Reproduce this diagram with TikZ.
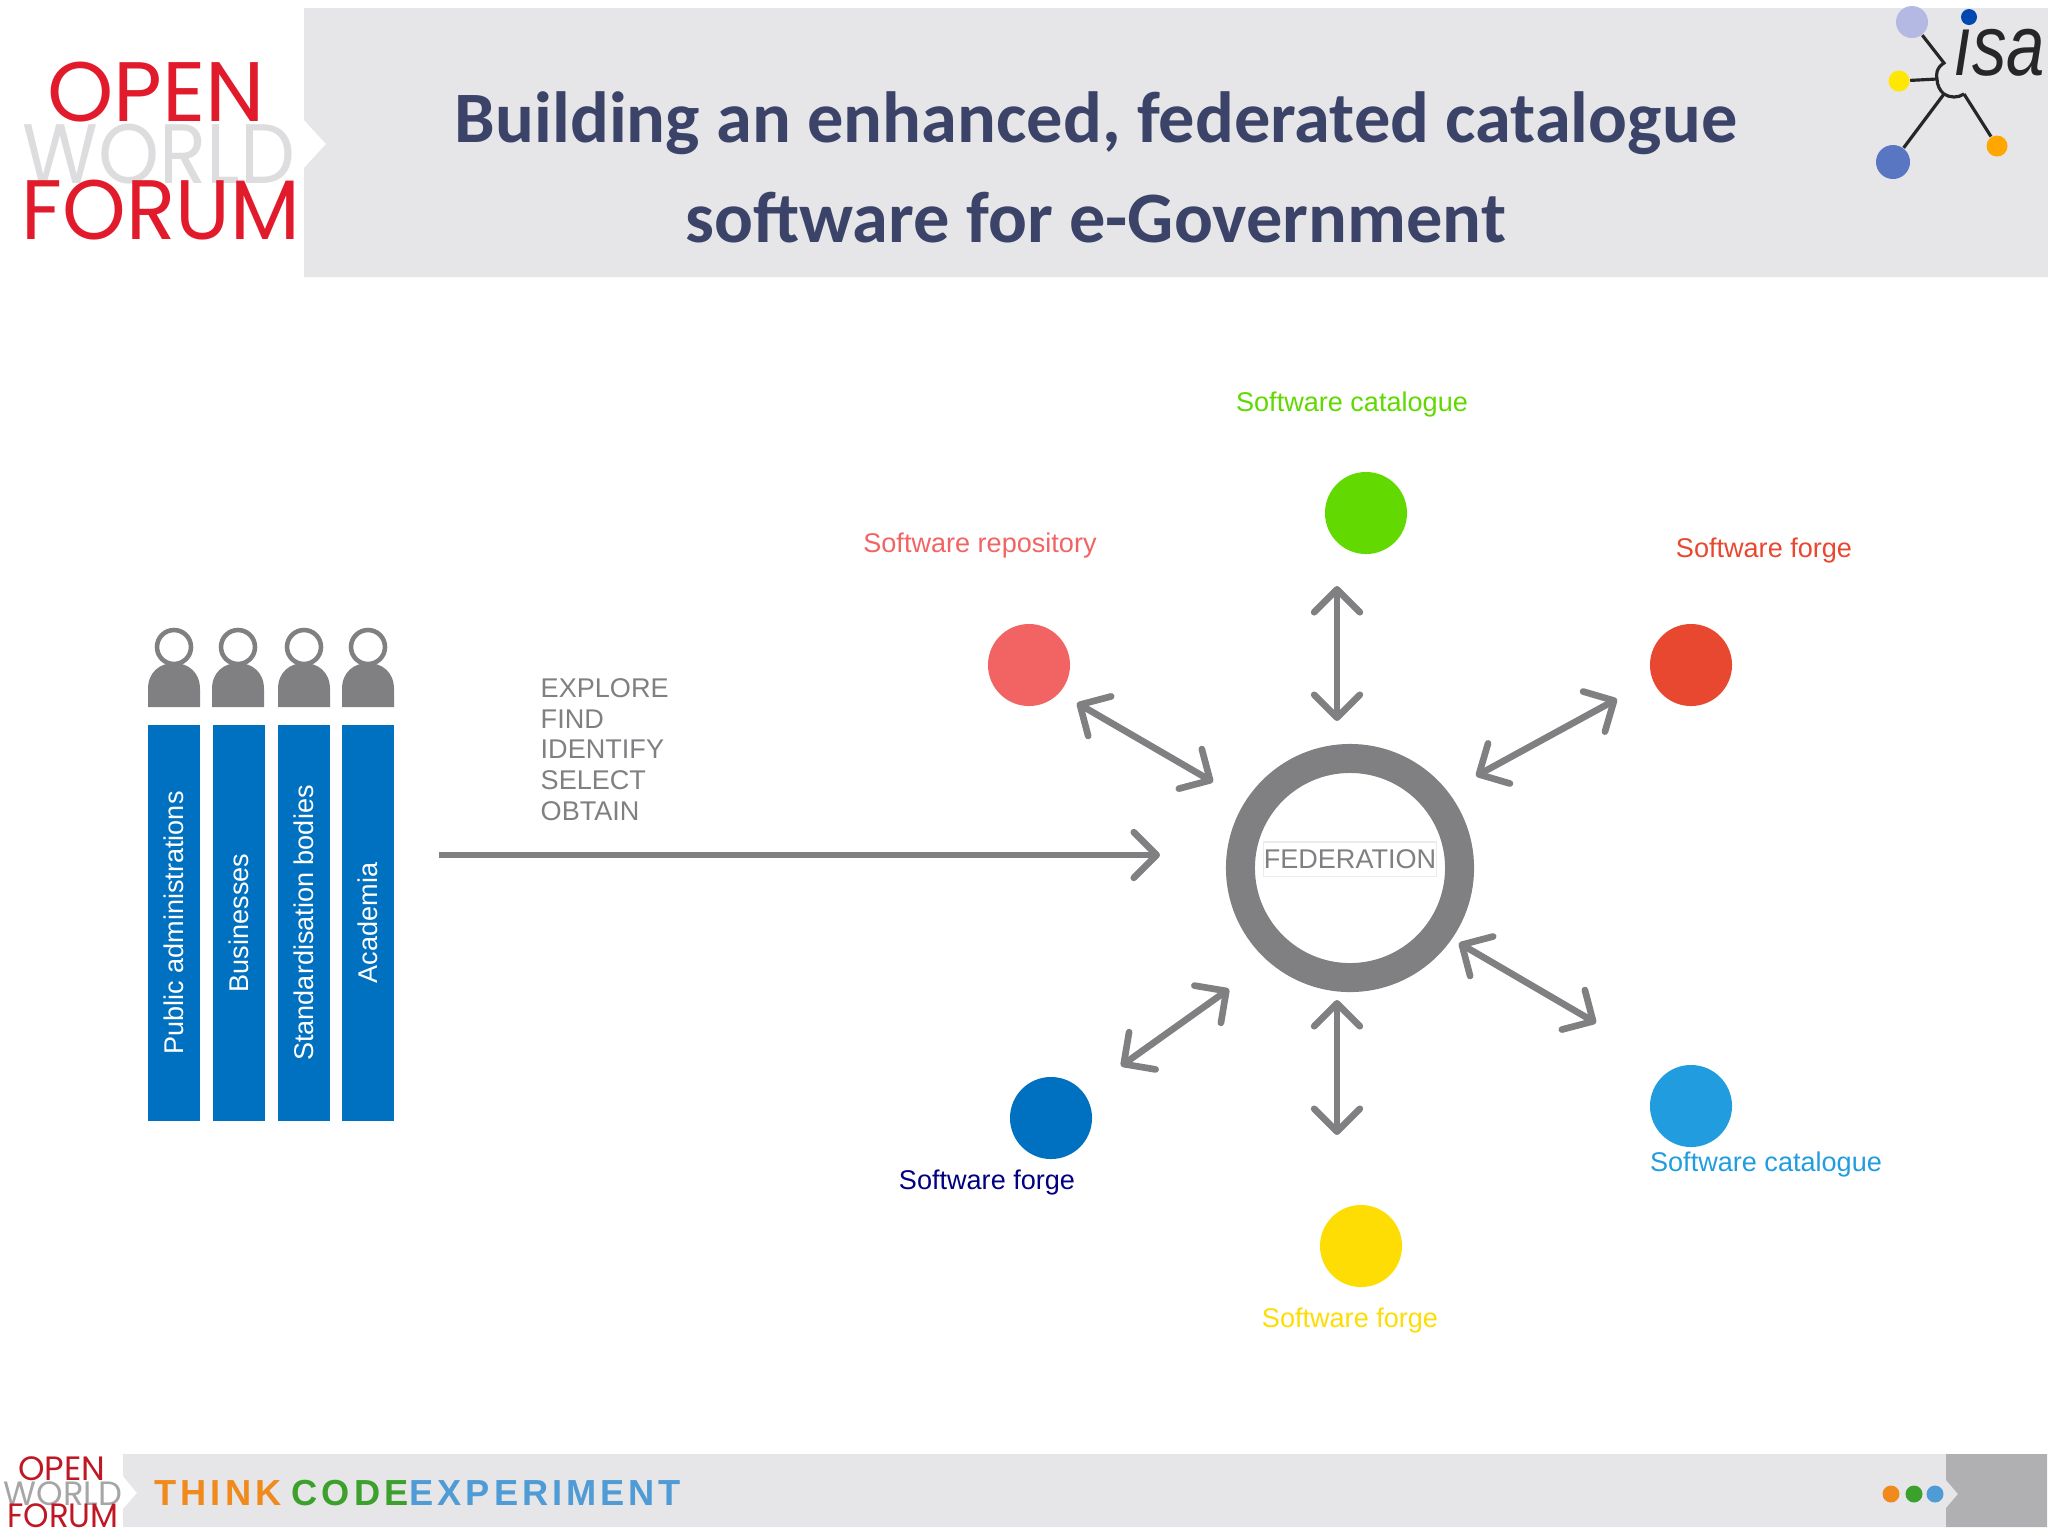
\documentclass[tikz,border=0pt]{standalone}
\usepackage{fontspec}
\setmainfont{Liberation Sans}
\newfontfamily\titlefont{Carlito}
\newfontfamily\logofont{Poppins}
\newfontfamily\tagfont[LetterSpace=11]{Liberation Sans}
\usetikzlibrary{arrows.meta,positioning}
\definecolor{bandgray}{HTML}{E6E6E8}
\definecolor{darkband}{HTML}{B0B0B2}
\definecolor{figgray}{HTML}{808083}
\definecolor{titleblue}{HTML}{3B4468}
\definecolor{logored}{HTML}{E11B2B}
\definecolor{logogray}{HTML}{DDDDDF}
\definecolor{barblue}{HTML}{0070C0}
\definecolor{tagorange}{HTML}{F08A1D}
\definecolor{taggreen}{HTML}{3BA02C}
\definecolor{tagblue}{HTML}{4F9BD5}
\tikzset{
  ttl/.style={font=\titlefont\bfseries\fontsize{20.6}{28.4}\selectfont,text=titleblue,align=center,inner sep=0pt},
  logo/.style={font=\logofont\fontsize{24}{24}\selectfont,text=logored,inner sep=0pt},
  smalllogo/.style={font=\logofont\fontsize{9.6}{9.6}\selectfont,text=logored!85!black,inner sep=0pt},
  tagw/.style={font=\tagfont\bfseries\fontsize{10.3}{10.3}\selectfont,anchor=west,inner sep=0pt},
  bar/.style={rectangle,fill=barblue,text=white,rotate=90,minimum width=3.95cm,inner sep=0pt,font=\fontsize{7.7}{7.7}\selectfont},
  dot/.style={circle,minimum size=0.82cm,inner sep=0pt},
  lbl/.style={font=\fontsize{7.7}{7.7}\selectfont,inner sep=0pt},
  isadot/.style={circle,inner sep=0pt},
  isaline/.style={black!85,line width=0.9pt},
  arr/.style={-{Straight Barb[length=6.5pt,width=13pt,round]},figgray,line width=1.9pt},
  dbl/.style={{Straight Barb[length=6.5pt,width=13pt,round]}-{Straight Barb[length=6.5pt,width=13pt,round]},figgray,line width=1.9pt},
  person/.pic={
    \fill[figgray] (-26,60) -- (-26,42) .. controls (-26,25) and (-14,16) .. (0,16) .. controls (14,16) and (26,25) .. (26,42) -- (26,60) -- cycle;
    \draw[figgray,fill=white,line width=1.3pt] (0,0) circle (17);
  },
}
\begin{document}
\begin{tikzpicture}[x=0.01cm,y=-0.01cm]
  \useasboundingbox (0,0) rectangle (2048,1535);
  % header
  \fill[bandgray] (304,8) -- (2048,8) -- (2048,277) -- (304,277) -- (304,168) -- (326,144) -- (304,120) -- cycle;
  \node[logo] (open) at (156,92) {OPEN};
  \node[logo,text=logogray,xscale=0.92] (world) at (159,154) {WORLD};
  \node[logo,xscale=0.96] (forum) at (161,210) {FORUM};
  \node[ttl] (title) at (1096,167) {Building an enhanced, federated catalogue\\software for e-Government};
  % isa logo
  \node[isadot,fill=cyan!30!blue!30,minimum size=0.32cm] (isaa) at (1912,22) {};
  \node[isadot,fill=blue!60!cyan!70!black,minimum size=0.16cm] (isab) at (1969,17) {};
  \node[isadot,fill=yellow!90!orange,minimum size=0.21cm] (isac) at (1899,81) {};
  \node[isadot,fill=cyan!30!blue!70!white,minimum size=0.34cm] (isad) at (1893,162) {};
  \node[isadot,fill=orange!70!yellow,minimum size=0.21cm] (isae) at (1997,146) {};
  \node[font=\itshape\fontsize{24.5}{24.5}\selectfont,xscale=0.8,inner sep=0pt,text=black!85] (isat) at (1999,53) {ısa};
  \coordinate (isaf) at (1944,63);
  \coordinate (isag) at (1937,79);
  \coordinate (isah) at (1944,94);
  \coordinate (isai) at (1964,94);
  \draw[isaline] (isaa) -- (isaf) .. controls (1936,68) and (1936,75) .. (isag);
  \draw[isaline] (isag) .. controls (1937,85) and (1940,91) .. (isah) .. controls (1950,98) and (1958,98) .. (isai);
  \draw[isaline] (isac) -- (isag);
  \draw[isaline] (isad) -- (isah);
  \draw[isaline] (isae) -- (isai);
  % people
  \pic at (174,647) {person};
  \pic at (238,647) {person};
  \pic at (304,647) {person};
  \pic at (368,647) {person};
  \node[bar,minimum height=0.51cm] (pa) at (174,923) {Public administrations};
  \node[bar,minimum height=0.52cm] (bs) at (239,923) {Businesses};
  \node[bar,minimum height=0.52cm] (sb) at (304,923) {Standardisation bodies};
  \node[bar,minimum height=0.51cm] (ac) at (368,923) {Academia};
  \node[lbl,text=figgray,anchor=north west,align=left,font=\fontsize{7.7}{8.72}\selectfont] (acts) at (540,678) {EXPLORE\\FIND\\IDENTIFY\\SELECT\\OBTAIN};
  \coordinate (ms) at (439,855);
  \coordinate (me) at (1160,855);
  \draw[arr] (ms) -- (me);
  % federation
  \node[circle,draw=figgray,line width=8.25pt,minimum size=2.19cm,inner sep=0pt] (ring) at (1350,868) {};
  \node[lbl,text=figgray,draw=black!8,line width=0.3pt,minimum width=1.73cm,minimum height=0.34cm] (fed) at (1350,859) {FEDERATION};
  \node[dot,fill=green!55!yellow!85!black] (catg) at (1366,513) {};
  \node[dot,fill=red!45!pink!95!black] (repo) at (1029,665) {};
  \node[dot,fill=red!60!brown!90!white] (frgr) at (1691,665) {};
  \node[dot,fill=barblue] (frgb) at (1051,1118) {};
  \node[dot,fill=cyan!80!blue!90!white] (catc) at (1691,1106) {};
  \node[dot,fill=yellow!80!orange] (frgy) at (1361,1246) {};
  \node[lbl,text=green!55!yellow!85!black] (catgl) at (1352,404) {Software catalogue};
  \node[lbl,text=red!45!pink!95!black] (repol) at (980,545) {Software repository};
  \node[lbl,text=red!60!brown!90!white] (frgrl) at (1764,550) {Software forge};
  \node[lbl,text=blue!50!black] (frgbl) at (987,1182) {Software forge};
  \node[lbl,text=cyan!80!blue!90!white] (catcl) at (1766,1164) {Software catalogue};
  \node[lbl,text=yellow!80!orange] (frgyl) at (1350,1320) {Software forge};
  \coordinate (ta) at (1337,586);
  \coordinate (tb) at (1337,721);
  \coordinate (ula) at (1077,703);
  \coordinate (ulb) at (1213,782);
  \coordinate (ura) at (1617,699);
  \coordinate (urb) at (1476,776);
  \coordinate (lra) at (1459,943);
  \coordinate (lrb) at (1596,1023);
  \coordinate (ba) at (1337,1000);
  \coordinate (bb) at (1337,1135);
  \coordinate (lla) at (1229,989);
  \coordinate (llb) at (1121,1066);
  \draw[dbl] (ta) -- (tb);
  \draw[dbl] (ula) -- (ulb);
  \draw[dbl] (ura) -- (urb);
  \draw[dbl] (lra) -- (lrb);
  \draw[dbl] (ba) -- (bb);
  \draw[dbl] (lla) -- (llb);
  % footer
  \fill[bandgray] (123,1454) -- (1946,1454) -- (1946,1480) -- (1958,1494) -- (1946,1508) -- (1946,1527) -- (123,1527) -- (123,1509) -- (137,1493) -- (123,1476) -- cycle;
  \fill[darkband] (1946,1454) -- (2047,1454) -- (2047,1527) -- (1946,1527) -- (1946,1508) -- (1958,1494) -- (1946,1480) -- cycle;
  \node[smalllogo] (sopen) at (62,1469) {OPEN};
  \node[smalllogo,text=black!35] (sworld) at (63,1494) {WORLD};
  \node[smalllogo,xscale=0.96] (sforum) at (63,1516) {FORUM};
  \node[tagw,text=tagorange] (think) at (154,1493) {THINK};
  \node[tagw,text=taggreen] (code) at (291,1493) {CODE};
  \node[tagw,text=tagblue] (expt) at (409,1493) {EXPERIMENT};
  \node[circle,fill=tagorange,minimum size=0.17cm,inner sep=0pt] (da) at (1891,1494) {};
  \node[circle,fill=taggreen,minimum size=0.17cm,inner sep=0pt] (db) at (1914,1494) {};
  \node[circle,fill=tagblue,minimum size=0.17cm,inner sep=0pt] (dc) at (1935,1494) {};
\end{tikzpicture}
\end{document}
